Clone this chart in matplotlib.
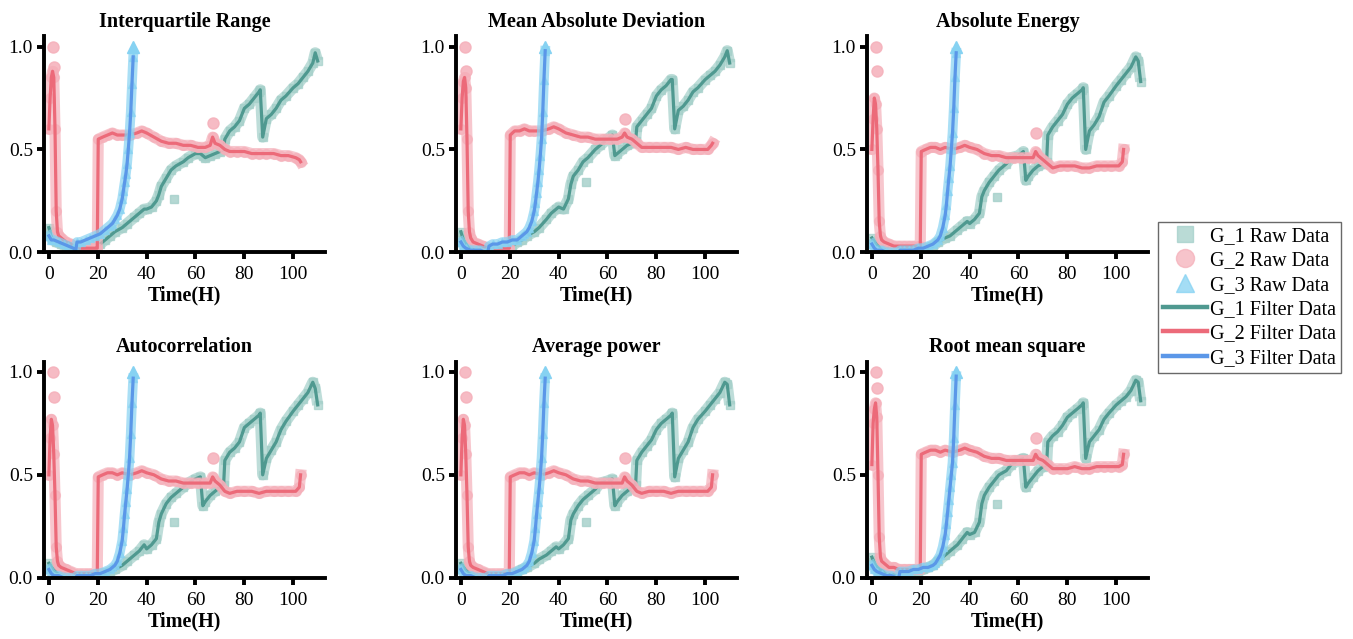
import matplotlib
matplotlib.use("Agg")
import matplotlib.pyplot as plt
from matplotlib.lines import Line2D

plt.rcParams['font.family'] = ['Liberation Serif', 'DejaVu Serif']

titles = ["Interquartile Range", "Mean Absolute Deviation", "Absolute Energy",
          "Autocorrelation", "Average power", "Root mean square"]

# time stamps (hours)
t_g1 = [0, 1, 2, 3, 5, 7, 10, 13, 16, 19, 21, 23, 25, 27, 30, 32, 35, 37, 39, 40,
        42, 44, 45, 46, 48, 50, 52, 55, 57, 60, 62, 63, 64, 66, 68, 70, 71.5, 72, 74, 76,
        78, 80, 82, 84, 86, 86.5, 87.5, 89, 91, 93, 95, 97, 100, 102, 104, 106, 108, 109, 110]
t_g2 = [0, 0.5, 1, 1.5, 2, 2.5, 3, 3.5, 4, 5, 7, 9, 11, 13, 15, 17, 19, 19.8, 20.2, 22,
        24, 26, 28, 30, 33, 36, 38, 40, 43, 46, 49, 52, 55, 58, 61, 64, 66, 67, 68, 70,
        72, 74, 77, 80, 83, 86, 89, 92, 95, 98, 101, 102.5, 103]
t_g3 = [0, 1, 2, 4, 6, 8, 10, 11, 11.5, 13, 15, 17, 19, 21, 23, 25, 26, 27, 28, 29,
        30, 30.5, 31, 31.5, 32, 32.5, 33, 33.5, 34, 34.5]

# G_1 filter data
iqr_g1 = [0.12, 0.08, 0.06, 0.05, 0.04, 0.03, 0.02, 0.01, 0.01, 0.02, 0.04, 0.06, 0.08, 0.10, 0.12, 0.14, 0.17, 0.19, 0.21, 0.21,
          0.22, 0.25, 0.28, 0.32, 0.36, 0.40, 0.42, 0.44, 0.46, 0.48, 0.48, 0.47, 0.46, 0.47, 0.48, 0.49, 0.50, 0.55, 0.59, 0.61,
          0.64, 0.70, 0.72, 0.75, 0.78, 0.79, 0.56, 0.65, 0.67, 0.70, 0.74, 0.76, 0.80, 0.82, 0.85, 0.88, 0.92, 0.97, 0.93]
mad_g1 = [0.10, 0.06, 0.04, 0.03, 0.02, 0.01, 0.01, 0.01, 0.01, 0.02, 0.03, 0.05, 0.06, 0.08, 0.10, 0.12, 0.16, 0.19, 0.21, 0.22,
          0.21, 0.26, 0.33, 0.37, 0.40, 0.44, 0.46, 0.50, 0.52, 0.55, 0.57, 0.47, 0.48, 0.50, 0.52, 0.53, 0.54, 0.61, 0.64, 0.67,
          0.70, 0.76, 0.79, 0.81, 0.84, 0.84, 0.60, 0.69, 0.71, 0.74, 0.78, 0.80, 0.84, 0.86, 0.88, 0.91, 0.95, 0.98, 0.92]
ae_g1 = [0.07, 0.05, 0.04, 0.03, 0.03, 0.02, 0.01, 0.01, 0.01, 0.01, 0.02, 0.02, 0.03, 0.05, 0.07, 0.08, 0.11, 0.13, 0.15, 0.14,
         0.16, 0.19, 0.27, 0.30, 0.34, 0.37, 0.40, 0.43, 0.46, 0.47, 0.49, 0.35, 0.37, 0.40, 0.42, 0.43, 0.44, 0.57, 0.61, 0.64,
         0.67, 0.72, 0.75, 0.77, 0.79, 0.80, 0.50, 0.59, 0.62, 0.66, 0.73, 0.76, 0.81, 0.84, 0.87, 0.90, 0.95, 0.93, 0.83]
ac_g1 = [0.07, 0.05, 0.04, 0.03, 0.03, 0.02, 0.01, 0.01, 0.01, 0.01, 0.02, 0.02, 0.03, 0.04, 0.06, 0.08, 0.11, 0.13, 0.16, 0.14,
         0.16, 0.19, 0.27, 0.31, 0.36, 0.39, 0.41, 0.44, 0.46, 0.48, 0.49, 0.35, 0.37, 0.40, 0.42, 0.44, 0.45, 0.57, 0.61, 0.63,
         0.66, 0.73, 0.75, 0.77, 0.79, 0.80, 0.50, 0.58, 0.62, 0.66, 0.72, 0.76, 0.81, 0.84, 0.87, 0.90, 0.95, 0.92, 0.84]
ap_g1 = [0.07, 0.05, 0.04, 0.03, 0.03, 0.02, 0.02, 0.01, 0.01, 0.01, 0.02, 0.03, 0.04, 0.05, 0.07, 0.09, 0.11, 0.13, 0.15, 0.14,
         0.16, 0.19, 0.28, 0.31, 0.35, 0.38, 0.40, 0.43, 0.46, 0.47, 0.48, 0.35, 0.37, 0.40, 0.42, 0.44, 0.45, 0.57, 0.61, 0.64,
         0.67, 0.72, 0.75, 0.77, 0.79, 0.80, 0.49, 0.58, 0.62, 0.66, 0.73, 0.77, 0.81, 0.84, 0.87, 0.90, 0.95, 0.94, 0.84]
rms_g1 = [0.10, 0.07, 0.05, 0.04, 0.03, 0.02, 0.02, 0.02, 0.02, 0.03, 0.04, 0.05, 0.06, 0.08, 0.11, 0.13, 0.16, 0.19, 0.22, 0.21,
          0.22, 0.27, 0.36, 0.40, 0.44, 0.47, 0.50, 0.52, 0.55, 0.57, 0.58, 0.44, 0.46, 0.49, 0.52, 0.54, 0.55, 0.66, 0.69, 0.71,
          0.74, 0.78, 0.80, 0.82, 0.84, 0.85, 0.58, 0.66, 0.69, 0.72, 0.77, 0.80, 0.84, 0.86, 0.88, 0.91, 0.96, 0.95, 0.86]

# G_2 filter data
iqr_g2 = [0.60, 0.75, 0.85, 0.88, 0.85, 0.60, 0.20, 0.10, 0.08, 0.07, 0.05, 0.04, 0.02, 0.02, 0.02, 0.02, 0.02, 0.02, 0.55, 0.56,
          0.57, 0.58, 0.57, 0.57, 0.57, 0.58, 0.59, 0.58, 0.56, 0.54, 0.53, 0.53, 0.52, 0.52, 0.51, 0.51, 0.52, 0.56, 0.53, 0.52,
          0.50, 0.49, 0.49, 0.49, 0.48, 0.48, 0.48, 0.48, 0.47, 0.47, 0.46, 0.45, 0.44]
mad_g2 = [0.60, 0.75, 0.83, 0.85, 0.80, 0.55, 0.20, 0.10, 0.07, 0.05, 0.04, 0.03, 0.02, 0.02, 0.02, 0.02, 0.02, 0.02, 0.57, 0.59,
          0.59, 0.60, 0.59, 0.59, 0.59, 0.60, 0.61, 0.60, 0.58, 0.57, 0.56, 0.56, 0.55, 0.55, 0.55, 0.55, 0.56, 0.58, 0.56, 0.55,
          0.53, 0.51, 0.51, 0.51, 0.51, 0.51, 0.50, 0.51, 0.50, 0.50, 0.50, 0.52, 0.53]
ae_g2 = [0.50, 0.65, 0.75, 0.72, 0.60, 0.40, 0.15, 0.08, 0.06, 0.05, 0.04, 0.03, 0.03, 0.03, 0.03, 0.03, 0.03, 0.03, 0.49, 0.50,
         0.51, 0.51, 0.50, 0.51, 0.50, 0.51, 0.52, 0.51, 0.50, 0.48, 0.47, 0.47, 0.46, 0.46, 0.46, 0.46, 0.46, 0.49, 0.47, 0.45,
         0.43, 0.41, 0.42, 0.42, 0.42, 0.41, 0.41, 0.42, 0.42, 0.42, 0.42, 0.44, 0.50]
ac_g2 = [0.50, 0.68, 0.77, 0.74, 0.60, 0.40, 0.15, 0.08, 0.06, 0.05, 0.04, 0.03, 0.02, 0.02, 0.02, 0.02, 0.02, 0.02, 0.49, 0.50,
         0.51, 0.51, 0.50, 0.51, 0.50, 0.51, 0.52, 0.51, 0.50, 0.48, 0.47, 0.47, 0.46, 0.46, 0.46, 0.46, 0.46, 0.49, 0.47, 0.45,
         0.42, 0.41, 0.42, 0.42, 0.42, 0.41, 0.42, 0.42, 0.42, 0.42, 0.42, 0.44, 0.50]
ap_g2 = [0.50, 0.68, 0.77, 0.74, 0.60, 0.40, 0.15, 0.08, 0.06, 0.05, 0.04, 0.03, 0.02, 0.02, 0.02, 0.02, 0.02, 0.02, 0.49, 0.50,
         0.51, 0.51, 0.50, 0.51, 0.50, 0.51, 0.52, 0.51, 0.50, 0.48, 0.47, 0.47, 0.46, 0.46, 0.46, 0.46, 0.46, 0.49, 0.47, 0.45,
         0.42, 0.41, 0.42, 0.42, 0.42, 0.41, 0.42, 0.42, 0.42, 0.42, 0.42, 0.44, 0.50]
rms_g2 = [0.55, 0.75, 0.82, 0.85, 0.78, 0.50, 0.20, 0.10, 0.08, 0.07, 0.05, 0.05, 0.04, 0.04, 0.04, 0.04, 0.04, 0.04, 0.60, 0.61,
          0.62, 0.62, 0.61, 0.62, 0.61, 0.62, 0.63, 0.62, 0.61, 0.59, 0.58, 0.58, 0.57, 0.57, 0.57, 0.57, 0.57, 0.60, 0.58, 0.57,
          0.55, 0.53, 0.53, 0.53, 0.54, 0.53, 0.53, 0.54, 0.54, 0.54, 0.54, 0.55, 0.60]

# G_3 filter data
iqr_g3 = [0.08, 0.06, 0.06, 0.05, 0.04, 0.03, 0.02, 0.01, 0.05, 0.05, 0.06, 0.07, 0.08, 0.09, 0.11, 0.13, 0.14, 0.16, 0.18, 0.21,
          0.26, 0.30, 0.34, 0.38, 0.43, 0.50, 0.58, 0.68, 0.82, 0.95]
mad_g3 = [0.05, 0.03, 0.02, 0.01, 0.01, 0.01, 0.00, 0.00, 0.03, 0.04, 0.04, 0.05, 0.05, 0.06, 0.06, 0.08, 0.09, 0.10, 0.12, 0.15,
          0.20, 0.24, 0.29, 0.34, 0.40, 0.47, 0.55, 0.68, 0.84, 0.98]
ae_g3 = [0.04, 0.02, 0.01, 0.01, 0.00, 0.00, 0.00, 0.00, 0.01, 0.01, 0.01, 0.01, 0.02, 0.02, 0.03, 0.04, 0.05, 0.06, 0.08, 0.12,
         0.18, 0.23, 0.30, 0.36, 0.42, 0.50, 0.58, 0.70, 0.85, 0.97]
ac_g3 = [0.04, 0.02, 0.01, 0.01, 0.00, 0.00, 0.00, 0.00, 0.01, 0.01, 0.01, 0.01, 0.02, 0.02, 0.03, 0.04, 0.05, 0.06, 0.08, 0.12,
         0.18, 0.24, 0.31, 0.37, 0.43, 0.50, 0.58, 0.70, 0.85, 0.97]
ap_g3 = [0.04, 0.02, 0.01, 0.01, 0.00, 0.00, 0.00, 0.00, 0.01, 0.01, 0.01, 0.01, 0.02, 0.02, 0.03, 0.04, 0.05, 0.06, 0.08, 0.12,
         0.18, 0.24, 0.31, 0.37, 0.43, 0.50, 0.58, 0.70, 0.85, 0.97]
rms_g3 = [0.06, 0.04, 0.03, 0.02, 0.01, 0.01, 0.00, 0.00, 0.03, 0.03, 0.03, 0.04, 0.04, 0.05, 0.05, 0.06, 0.07, 0.09, 0.11, 0.15,
          0.21, 0.26, 0.32, 0.38, 0.44, 0.50, 0.56, 0.68, 0.84, 0.98]

# a few raw points that stand out from the filtered curves
g1_out_t = 51
g1_out = [0.26, 0.34, 0.27, 0.27, 0.27, 0.36]
g2_peak_t = [1.5, 2.0]
g2_peak = [[1.0, 0.90], [1.0, 0.88], [1.0, 0.88], [1.0, 0.88], [1.0, 0.88], [1.0, 0.92]]
g2_spike_t = 67
g2_spike = [0.63, 0.65, 0.58, 0.58, 0.58, 0.68]
g3_top = [1.0, 1.0, 1.0, 1.0, 1.0, 1.0]

g1_all = [iqr_g1, mad_g1, ae_g1, ac_g1, ap_g1, rms_g1]
g2_all = [iqr_g2, mad_g2, ae_g2, ac_g2, ap_g2, rms_g2]
g3_all = [iqr_g3, mad_g3, ae_g3, ac_g3, ap_g3, rms_g3]

c1, c1_raw = "#4f9990", "#a3cfc9"
c2, c2_raw = "#ec6a79", "#f5b0ba"
c3, c3_raw = "#5b97e8", "#86d2f2"

fig = plt.figure(figsize=(13.53, 6.39), dpi=100)

lefts = [44 / 1353, 456 / 1353, 867 / 1353]
bottoms = [(639 - 252.3) / 639, (639 - 577.7) / 639]
w, h = 281 / 1353, 216 / 639

for i in range(6):
    row, col = divmod(i, 3)
    ax = fig.add_axes([lefts[col], bottoms[row], w, h])

    # G_1
    ax.plot(t_g1, g1_all[i], color=c1_raw, lw=8, alpha=0.7, marker='s', ms=6, solid_capstyle='butt', zorder=1)
    ax.plot([g1_out_t], [g1_out[i]], ls='none', marker='s', ms=6, color=c1_raw, alpha=0.8, zorder=1)
    ax.plot(t_g1, g1_all[i], color=c1, lw=2.3, zorder=2)
    # G_2
    ax.plot(t_g2, g2_all[i], color=c2_raw, lw=8, alpha=0.7, marker='o', ms=7, zorder=3)
    ax.plot(g2_peak_t + [g2_spike_t], g2_peak[i] + [g2_spike[i]], ls='none', marker='o', ms=8,
            color=c2_raw, alpha=0.85, zorder=3)
    ax.plot(t_g2, g2_all[i], color=c2, lw=2.3, zorder=4)
    # G_3
    ax.plot(t_g3, g3_all[i], color=c3_raw, lw=7, alpha=0.7, marker='^', ms=6, zorder=5)
    ax.plot([34.5], [g3_top[i]], ls='none', marker='^', ms=8, color=c3_raw, zorder=5)
    ax.plot(t_g3, g3_all[i], color=c3, lw=2.3, zorder=6)

    ax.set_xlim(-2, 113)
    ax.set_ylim(0, 1.05)
    ax.set_xticks([0, 20, 40, 60, 80, 100])
    ax.set_yticks([0, 0.5, 1.0])
    ax.set_yticklabels(["0.0", "0.5", "1.0"])
    for s in ["top", "right"]:
        ax.spines[s].set_visible(False)
    for s in ["left", "bottom"]:
        ax.spines[s].set_linewidth(2.8)
        ax.spines[s].set_zorder(10)
    ax.tick_params(axis='both', direction='out', length=5, width=2.8, labelsize=14, pad=3)
    ax.tick_params(axis='x', pad=5)
    ax.set_title(titles[i], fontsize=14.5, fontweight='bold', pad=7)
    ax.set_xlabel("Time(H)", fontsize=14.5, fontweight='bold', labelpad=2)

handles = [
    Line2D([], [], ls='none', marker='s', ms=12, color=c1_raw, alpha=0.75),
    Line2D([], [], ls='none', marker='o', ms=13, color=c2_raw, alpha=0.75),
    Line2D([], [], ls='none', marker='^', ms=13, color=c3_raw, alpha=0.75),
    Line2D([], [], color=c1, lw=3.2),
    Line2D([], [], color=c2, lw=3.2),
    Line2D([], [], color=c3, lw=3.2),
]
labels = ["G_1 Raw Data", "G_2 Raw Data", "G_3 Raw Data",
          "G_1 Filter Data", "G_2 Filter Data", "G_3 Filter Data"]
leg = fig.legend(handles, labels, loc='upper left', bbox_to_anchor=(1158 / 1353, (639 - 222) / 639),
                 fontsize=14.5, frameon=True, fancybox=False, edgecolor='#444444', handlelength=2.2,
                 handletextpad=0.12, labelspacing=0.26, borderpad=0.25, borderaxespad=0)
leg.get_frame().set_linewidth(1.0)

fig.savefig("out.png", dpi=100)
